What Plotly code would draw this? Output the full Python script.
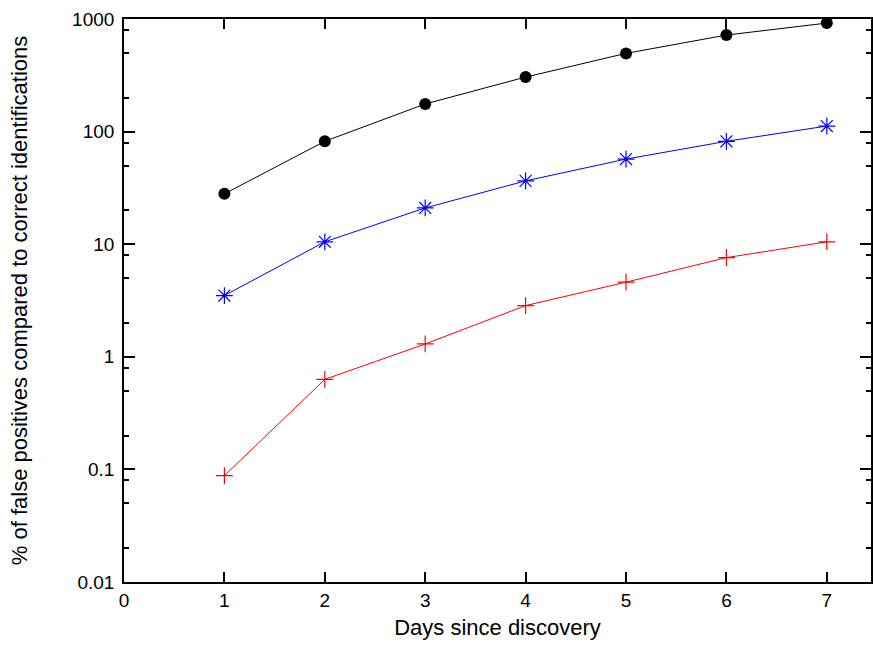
import plotly.graph_objects as go

days = [1, 2, 3, 4, 5, 6, 7]
black_vals = [28, 82, 176, 305, 495, 720, 920]
blue_vals = [3.5, 10.5, 21, 36.5, 57, 82, 112]
red_vals = [0.088, 0.63, 1.3, 2.85, 4.6, 7.6, 10.5]

y_tick_vals = [0.01, 0.1, 1, 10, 100, 1000]
y_tick_text = ["0.01\u2009", "0.1\u2009", "1\u2009", "10\u2009", "100\u2009", "1000\u2009"]
y_minor_vals = [m * 10 ** e for e in range(-2, 3) for m in (2, 5, 8)]
x_tick_vals = [0, 1, 2, 3, 4, 5, 6, 7]

FONT = "Liberation Sans, Arial, sans-serif"

fig = go.Figure()
fig.add_trace(go.Scatter(x=days, y=black_vals, mode="lines+markers",
                         line=dict(color="black", width=1),
                         marker=dict(symbol="circle", size=12, color="black")))
fig.add_trace(go.Scatter(x=days, y=blue_vals, mode="lines+markers",
                         line=dict(color="blue", width=1),
                         marker=dict(symbol="asterisk-open", size=14,
                                     line=dict(color="blue", width=1.2))))
fig.add_trace(go.Scatter(x=days, y=red_vals, mode="lines+markers",
                         line=dict(color="red", width=1),
                         marker=dict(symbol="cross-thin-open", size=12,
                                     line=dict(color="red", width=1.2))))

fig.update_layout(
    width=873, height=650,
    margin=dict(l=124, r=0, t=19, b=68),
    paper_bgcolor="white", plot_bgcolor="white",
    showlegend=False,
    font=dict(family=FONT, size=19, color="black"),
    xaxis=dict(range=[0, 7.44], tickvals=x_tick_vals,
               ticks="inside", ticklen=10, tickwidth=1.5, tickcolor="black",
               showline=True, linecolor="black", linewidth=2, mirror="ticks",
               showgrid=False, zeroline=False,
               tickfont=dict(size=19),
               title=dict(text="Days since discovery", standoff=10,
                          font=dict(size=22))),
    yaxis=dict(type="log", range=[-2, 3], tickvals=y_tick_vals, ticktext=y_tick_text,
               ticks="inside", ticklen=11, tickwidth=1.5, tickcolor="black",
               minor=dict(tickvals=y_minor_vals, ticks="inside", ticklen=5,
                          tickwidth=1.5, tickcolor="black", showgrid=False),
               showline=True, linecolor="black", linewidth=2, mirror="ticks",
               showgrid=False, zeroline=False, automargin=True,
               tickfont=dict(size=19),
               title=dict(text="% of false positives compared to correct identifications",
                          standoff=38, font=dict(size=22))),
)

fig.write_html("out.html")
